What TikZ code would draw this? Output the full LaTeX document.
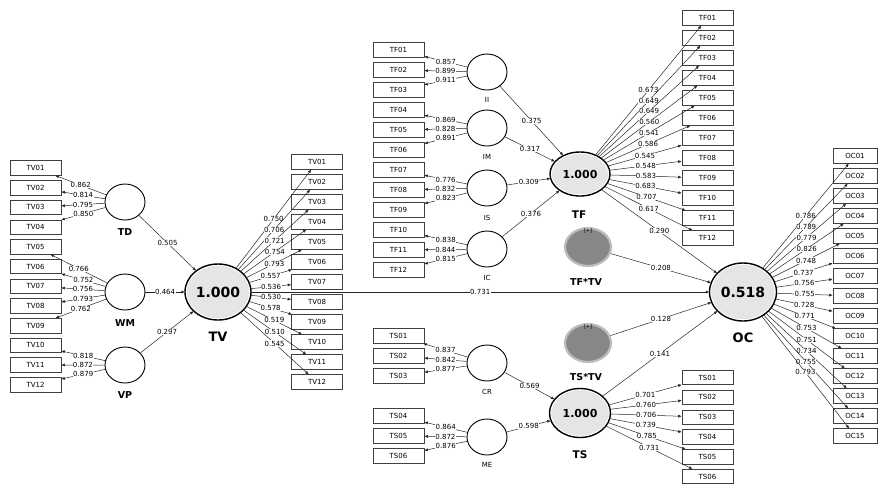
\documentclass[tikz,border=0pt]{standalone}
\usepackage{fontspec}
\setmainfont{DejaVu Sans}
\usetikzlibrary{shapes.geometric, arrows.meta}

\begin{document}
\begin{tikzpicture}[
  x=1pt, y=-1pt,
  ind/.style={draw=black!75, line width=0.6pt, minimum width=51pt, minimum height=14.5pt, inner sep=0pt, font=\fontsize{7}{8}\selectfont},
  lv/.style={draw, ellipse, line width=0.9pt, minimum width=40pt, minimum height=36pt, inner sep=0pt},
  hov/.style={ellipse, fill=gray!20, inner sep=0pt, font=\bfseries\fontsize{14}{16}\selectfont,
    postaction={draw=white, line width=3.5pt}, postaction={draw=black, line width=1.4pt}},
  intr/.style={ellipse, fill=black!47, draw=black!25, line width=2.2pt, minimum width=46pt, minimum height=38pt, inner sep=0pt},
  lvname/.style={font=\bfseries\fontsize{9.5}{10}\selectfont},
  smname/.style={font=\fontsize{7}{8}\selectfont},
  ld/.style={fill=white, inner sep=0.4pt, font=\fontsize{7}{7}\selectfont},
  link/.style={draw=black!85, line width=0.5pt, -{Latex[length=3.5pt, width=3pt]}},
]
\useasboundingbox (0,0) rectangle (878,483);

%% Indicator boxes
\foreach \t [count=\i] in {01,02,03,04,05,06,07,08,09,10,11,12} {
  \node[ind] (tvl\i) at (35.5, {168+19.7*(\i-1)}) {TV\t};
  \node[ind] (tvr\i) at (317, {162+20*(\i-1)}) {TV\t};
  \node[ind] (tfl\i) at (398.5, {50+20*(\i-1)}) {TF\t};
  \node[ind] (tfr\i) at (707.5, {18+20*(\i-1)}) {TF\t};
}
\foreach \t/\y [count=\i] in {01/336, 02/356, 03/376, 04/416, 05/436, 06/456}
  \node[ind] (tsl\i) at (398.5, \y) {TS\t};
\foreach \t [count=\i] in {01,02,03,04,05,06}
  \node[ind] (tsr\i) at (707.5, {377.5+19.8*(\i-1)}) {TS\t};
\foreach \t [count=\i] in {01,02,03,04,05,06,07,08,09,10,11,12,13,14,15}
  \node[ind, minimum width=44pt] (oc\i) at (855, {156+20*(\i-1)}) {OC\t};

%% First-order constructs
\node[lv] (TD) at (125,202) {};
\node[lv] (WM) at (125,292) {};
\node[lv] (VP) at (125,365) {};
\node[lv] (II) at (487,72) {};
\node[lv] (IM) at (487,128) {};
\node[lv] (IS) at (487,188) {};
\node[lv] (IC) at (487,249) {};
\node[lv] (CR) at (487,363) {};
\node[lv] (ME) at (487,437) {};

\node[lvname] (tdname) at (125,232) {TD};
\node[lvname] (wmname) at (125,323) {WM};
\node[lvname] (vpname) at (125,395) {VP};
\node[smname] (iiname) at (487,100) {II};
\node[smname] (imname) at (487,157) {IM};
\node[smname] (isname) at (487,218) {IS};
\node[smname] (icname) at (487,278) {IC};
\node[smname] (crname) at (487,392) {CR};
\node[smname] (mename) at (487,465) {ME};

%% Higher-order constructs and moderators
\node[hov, minimum width=66pt, minimum height=56pt] (TV) at (218,292) {1.000};
\node[hov, minimum width=60pt, minimum height=44pt, font=\bfseries\fontsize{11}{12}\selectfont] (TF) at (580,174) {1.000};
\node[hov, minimum width=61pt, minimum height=49pt, font=\bfseries\fontsize{11}{12}\selectfont] (TS) at (580,413) {1.000};
\node[hov, minimum width=67pt, minimum height=58pt] (OC) at (743,292) {0.518};
\node[intr, label={[font=\fontsize{5}{5}\selectfont, yshift=-10pt]north:{[+]}}] (tftv) at (588,247) {};
\node[intr, label={[font=\fontsize{5}{5}\selectfont, yshift=-10pt]north:{[+]}}] (tstv) at (588,343) {};

\node[lvname, font=\bfseries\fontsize{13}{14}\selectfont] (tvname) at (218,337) {TV};
\node[lvname, font=\bfseries\fontsize{10.5}{11}\selectfont] (tfname) at (579,215) {TF};
\node[lvname, font=\bfseries\fontsize{10.5}{11}\selectfont] (tsname) at (580,455) {TS};
\node[lvname, font=\bfseries\fontsize{13}{14}\selectfont] (ocname) at (743,338) {OC};
\node[lvname] (tftvname) at (586,282) {TF*TV};
\node[lvname] (tstvname) at (586,377) {TS*TV};

%% Outer loadings
\foreach \v [count=\i] in {0.862,0.814,0.795,0.850}
  \draw[link] (TD) -- node[ld] {\v} (tvl\i);
\foreach \v [count=\i from 5] in {0.766,0.752,0.756,0.793,0.762}
  \draw[link] (WM) -- node[ld] {\v} (tvl\i);
\foreach \v [count=\i from 10] in {0.818,0.872,0.879}
  \draw[link] (VP) -- node[ld] {\v} (tvl\i);
\foreach \v [count=\i] in {0.750,0.706,0.721,0.754,0.793,0.557,0.536,0.530,0.578,0.519,0.510,0.545}
  \draw[link] (TV) -- node[ld] {\v} (tvr\i);
\foreach \v [count=\i] in {0.857,0.899,0.911}
  \draw[link] (II) -- node[ld] {\v} (tfl\i);
\foreach \v [count=\i from 4] in {0.869,0.828,0.891}
  \draw[link] (IM) -- node[ld] {\v} (tfl\i);
\foreach \v [count=\i from 7] in {0.776,0.832,0.823}
  \draw[link] (IS) -- node[ld] {\v} (tfl\i);
\foreach \v [count=\i from 10] in {0.838,0.844,0.815}
  \draw[link] (IC) -- node[ld] {\v} (tfl\i);
\foreach \v [count=\i] in {0.673,0.649,0.649,0.560,0.541,0.586,0.545,0.548,0.583,0.683,0.707,0.617}
  \draw[link] (TF) -- node[ld] {\v} (tfr\i);
\foreach \v [count=\i] in {0.837,0.842,0.877}
  \draw[link] (CR) -- node[ld] {\v} (tsl\i);
\foreach \v [count=\i from 4] in {0.864,0.872,0.876}
  \draw[link] (ME) -- node[ld] {\v} (tsl\i);
\foreach \v [count=\i] in {0.701,0.760,0.706,0.739,0.785,0.731}
  \draw[link] (TS) -- node[ld] {\v} (tsr\i);
\foreach \v [count=\i] in {0.786,0.789,0.779,0.826,0.748,0.737,0.756,0.755,0.728,0.771,0.753,0.751,0.734,0.755,0.793}
  \draw[link] (OC) -- node[ld] {\v} (oc\i);

%% Path coefficients
\draw[link] (TD) -- node[ld] {0.505} (TV);
\draw[link] (WM) -- node[ld] {0.464} (TV);
\draw[link] (VP) -- node[ld] {0.297} (TV);
\draw[link] (II) -- node[ld] {0.375} (TF);
\draw[link] (IM) -- node[ld] {0.317} (TF);
\draw[link] (IS) -- node[ld] {0.309} (TF);
\draw[link] (IC) -- node[ld] {0.376} (TF);
\draw[link] (CR) -- node[ld] {0.569} (TS);
\draw[link] (ME) -- node[ld] {0.598} (TS);
\draw[link] (TV) -- node[ld] {0.731} (OC);
\draw[link] (TF) -- node[ld] {0.290} (OC);
\draw[link] (tftv) -- node[ld] {0.208} (OC);
\draw[link] (tstv) -- node[ld] {0.128} (OC);
\draw[link] (TS) -- node[ld] {0.141} (OC);

\end{tikzpicture}
\end{document}
